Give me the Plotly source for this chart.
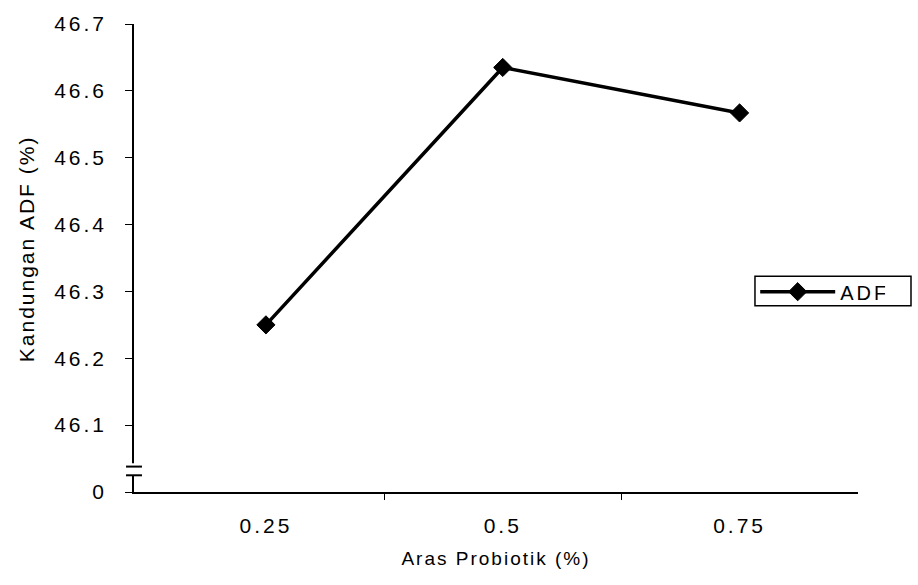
import plotly.graph_objects as go

categories = ["0.25", "0.5", "0.75"]
adf_values = [46.25, 46.635, 46.567]
y_tickvals = [46.0, 46.1, 46.2, 46.3, 46.4, 46.5, 46.6, 46.7]
y_ticktext = ["0", "46.1", "46.2", "46.3", "46.4", "46.5", "46.6", "46.7"]

xpos = list(range(len(categories)))

fig = go.Figure()
fig.add_trace(go.Scatter(
    x=xpos, y=adf_values, mode="lines+markers", name="ADF",
    line=dict(color="black", width=3.5),
    marker=dict(symbol="diamond", size=14, color="black",
                line=dict(color="black", width=1)),
))

font = dict(family="Liberation Sans, Arial, sans-serif", color="black")

fig.update_layout(
    width=918, height=585,
    margin=dict(l=134, r=60, t=20, b=93),
    paper_bgcolor="white", plot_bgcolor="white",
    font=dict(size=16, **font),
    showlegend=True,
    legend=dict(x=0.858, y=0.428, xanchor="left", yanchor="middle",
                borderwidth=0, bgcolor="rgba(0,0,0,0)",
                font=dict(size=20, **font), itemwidth=75,
                tracegroupgap=0),
    xaxis=dict(
        range=[-0.557, 2.5], tickvals=xpos, ticktext=categories,
        ticks="", showline=True, linecolor="black", linewidth=1.5,
        showgrid=False, zeroline=False, ticklabelstandoff=14,
        tickfont=dict(size=21, **font),
        minor=dict(tickvals=[0.5, 1.5], ticks="outside", ticklen=6,
                   tickcolor="black", showgrid=False),
        title=dict(text="Aras Probiotik (%)", font=dict(size=19, **font),
                   standoff=16),
    ),
    yaxis=dict(
        range=[46.0, 46.7], tickvals=y_tickvals, ticktext=y_ticktext,
        ticks="outside", ticklen=7, tickcolor="black", showline=True,
        linecolor="black", linewidth=1.5, showgrid=False, zeroline=False,
        ticklabelstandoff=14, tickfont=dict(size=21, **font),
    ),
    annotations=[dict(
        text="Kandungan ADF (%)", textangle=-90, showarrow=False,
        xref="paper", yref="paper", x=-0.149, y=0.519,
        xanchor="center", yanchor="middle",
        font=dict(size=21, **font),
    )],
)

# legend frame
fig.add_shape(type="rect", xref="paper", yref="paper",
              x0=0.8577, x1=1.0732, y0=0.398, y1=0.461,
              line=dict(color="black", width=1.5), fillcolor="rgba(0,0,0,0)",
              layer="above")

# axis break marks
fig.add_shape(type="rect", xref="paper", yref="y", x0=-0.01, x1=0.01,
              y0=46.024, y1=46.043, fillcolor="white", line=dict(width=0),
              layer="above")
for yb in [46.025, 46.038]:
    fig.add_shape(type="line", xref="paper", yref="y", x0=-0.011, x1=0.011,
                  y0=yb, y1=yb, line=dict(color="black", width=2),
                  layer="above")

post = """
var s = document.createElement('style');
s.textContent = '.xtick text, .ytick text { letter-spacing: 3px; }'
  + ' .xtitle, .annotation-text { letter-spacing: 2px; }'
  + ' .legendtext { letter-spacing: 3px; }';
document.head.appendChild(s);
"""

fig.write_html("out.html", post_script=post)
